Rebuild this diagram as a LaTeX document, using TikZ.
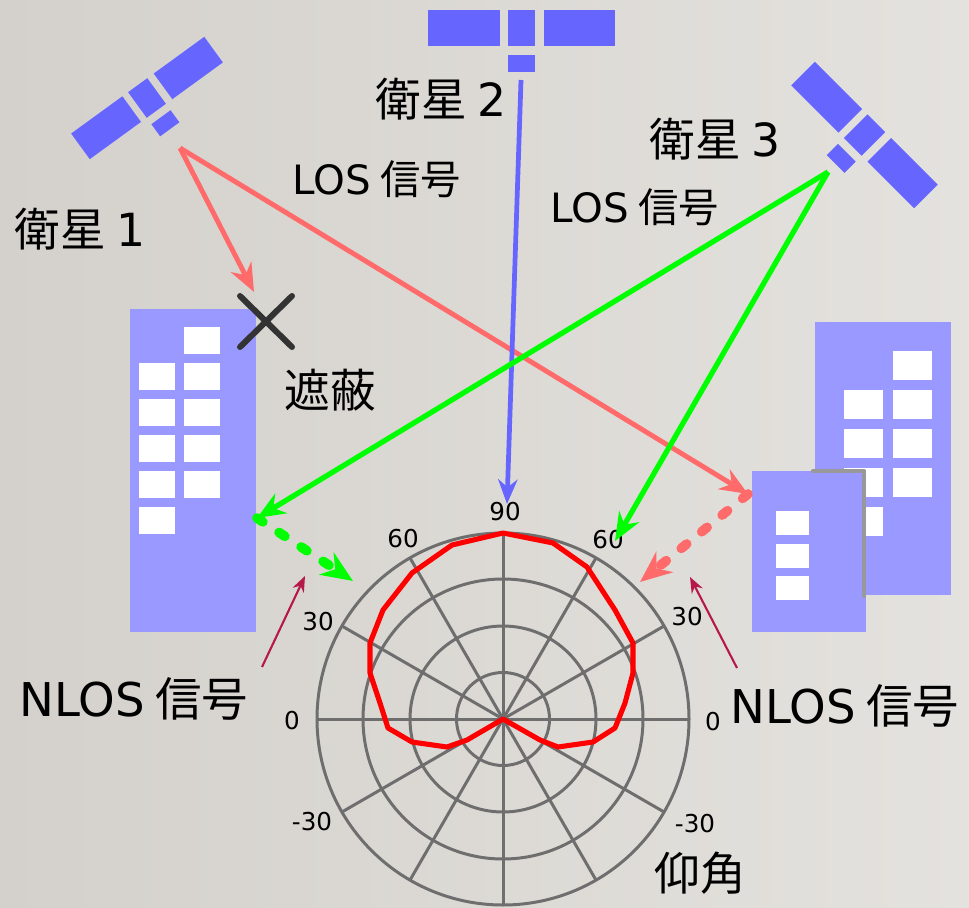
\documentclass[tikz,border=0pt]{standalone}
\usepackage{fontspec}
\setmainfont{Noto Sans}
\newfontfamily\jp{Noto Sans CJK JP}
\newfontfamily\lat{DejaVu Sans}
\usetikzlibrary{arrows.meta}

\definecolor{satblue}{HTML}{6666FF}
\definecolor{bldg}{HTML}{9999FF}
\definecolor{sigred}{HTML}{FF6B6B}
\definecolor{siggreen}{HTML}{00FF00}
\definecolor{gridgray}{HTML}{6E6E6E}
\definecolor{pointer}{HTML}{B5194A}
\definecolor{bgleft}{HTML}{D4D1CC}
\definecolor{bgright}{HTML}{E4E2DE}

% satellite: x, y, rotation, scale
\newcommand{\satellite}[4]{
  \begin{scope}[shift={(#1,#2)},rotate=#3,scale=#4]
    \fill[satblue] (-93.5,-18) rectangle (-21.5,18);
    \fill[satblue] (-13.5,-18) rectangle (13.5,18);
    \fill[satblue] (22.5,-18) rectangle (93.5,18);
    \fill[satblue] (-13.5,27) rectangle (13.5,44);
  \end{scope}
}

\begin{document}
\begin{tikzpicture}
  [
  x=0.02cm,y=-0.02cm,
  label/.style={font=\jp\fontsize{26}{30}\selectfont,inner sep=0pt},
  los/.style={font=\jp\fontsize{23}{27}\selectfont,inner sep=0pt},
  nlos/.style={font=\jp\fontsize{26.5}{31}\selectfont,inner sep=0pt},
  deg/.style={font=\lat\fontsize{14}{17}\selectfont,inner sep=0pt},
  window/.style={fill=white},
  redsig/.style={sigred,line width=2.8pt,-{Stealth[length=16pt,width=13pt]}},
  greensig/.style={siggreen,line width=3pt,-{Stealth[length=16pt,width=13pt]}},
  bluesig/.style={satblue,line width=2.7pt,-{Stealth[length=14pt,width=11pt]}},
  reflect/.style={line width=5.5pt,line cap=round,dash pattern=on 4pt off 11pt,
    -{Stealth[length=18pt,width=15pt]}},
  pointarrow/.style={pointer,line width=1.2pt,-{Stealth[length=9pt,width=7pt]}},
  grid/.style={gridgray,line width=1.7pt}
  ]
  % background
  \shade[left color=bgleft,right color=bgright] (0,0) rectangle (969,908);
  \useasboundingbox (0,0) rectangle (969,908);

  % satellites
  \satellite{147}{98}{36}{0.88}
  \satellite{521.5}{28}{0}{1}
  \satellite{864.5}{135}{-45}{0.93}
  \coordinate (s1) at (180,148);
  \coordinate (s2) at (521,80);
  \coordinate (s3) at (828,172);

  % left building
  \fill[bldg] (130,309) rectangle (256,632);
  \foreach \y in {327,363,399,435,471}
    \fill[window] (184,\y) rectangle ++(36,27);
  \foreach \y in {363,399,435,471,507}
    \fill[window] (139,\y) rectangle ++(36,27);

  % right buildings
  \fill[bldg] (815,322) rectangle (951,595);
  \foreach \y in {351,390,429,468}
    \fill[window] (893,\y) rectangle ++(39,29);
  \foreach \y in {390,429,468,507}
    \fill[window] (844,\y) rectangle ++(39,29);
  \fill[bldg] (752,471) rectangle (866,632);
  \foreach \y in {511,544,576}
    \fill[window] (776,\y) rectangle ++(33,24);
  \draw[gray!80,line width=2.4pt,line cap=round,line join=round]
    (813,471) -- (864,471) -- (864,596);

  % polar plot
  \coordinate (pc) at (503,719);
  \foreach \r in {46.5,93,140,186}
    \draw[grid] (pc) circle (\r);
  \foreach \a in {0,30,...,330}
    \draw[grid] (pc) -- ++(\a:186);
  \draw[red,line width=2.9pt,line join=round]
    (503,533) -- (553,543) -- (587,567) -- (615,610) -- (633,643)
    -- (633,673) -- (625,703) -- (615,728) -- (593,742) -- (558,747)
    -- (540,740) -- (503,719) -- (467,740) -- (447,747) -- (412,742)
    -- (388,728) -- (380,703) -- (370,673) -- (370,643) -- (383,610)
    -- (412,573) -- (452,545) -- cycle;
  \node[deg] (d90) at (505,512) {90};
  \node[deg] (d60l) at (403,539) {60};
  \node[deg] (d60r) at (608,540) {60};
  \node[deg] (d30l) at (318,622) {30};
  \node[deg] (d30r) at (687,617) {30};
  \node[deg] (d0l) at (292,721) {0};
  \node[deg] (d0r) at (713,722) {0};
  \node[deg] (dm30l) at (312,822) {-30};
  \node[deg] (dm30r) at (695,824) {-30};
  \node[label] (elev) at (700,873) {仰角};

  % signal paths
  \coordinate (block) at (254,292);
  \coordinate (hitL) at (257,518);
  \coordinate (hitR) at (748,494);
  \coordinate (polL) at (353,581);
  \coordinate (polR) at (640,582);
  \coordinate (top60) at (615,541);
  \coordinate (top90) at (507,504);
  \draw[redsig] (s1) -- (block);
  \draw[redsig] (s1) -- (hitR);
  \draw[bluesig] (s2) -- (top90);
  \draw[greensig] (s3) -- (hitL);
  \draw[greensig] (s3) -- (top60);
  \draw[reflect,siggreen] (hitL) -- (polL);
  \draw[reflect,sigred] (hitR) -- (polR);

  % blocked mark
  \draw[black!80,line width=3.4pt,line cap=round]
    (240,296) -- (292,347) (240,347) -- (292,296);

  % labels
  \node[label] (sat1) at (80,229) {衛星 {\lat 1}};
  \node[label] (sat2) at (441,99) {衛星 {\lat 2}};
  \node[label] (sat3) at (715,139) {衛星 {\lat 3}};
  \node[los] (los1) at (377,179) {{\lat LOS} 信号};
  \node[los] (los2) at (635,207) {{\lat LOS} 信号};
  \node[label] (shade) at (330,390) {遮蔽};
  \node[nlos] (nlos1) at (134,699) {{\lat NLOS} 信号};
  \node[nlos] (nlos2) at (845,706) {{\lat NLOS} 信号};
  \coordinate (p1) at (262,667);
  \coordinate (p2) at (737,668);
  \draw[pointarrow] (p1) -- (305,576);
  \draw[pointarrow] (p2) -- (690,577);
\end{tikzpicture}
\end{document}
